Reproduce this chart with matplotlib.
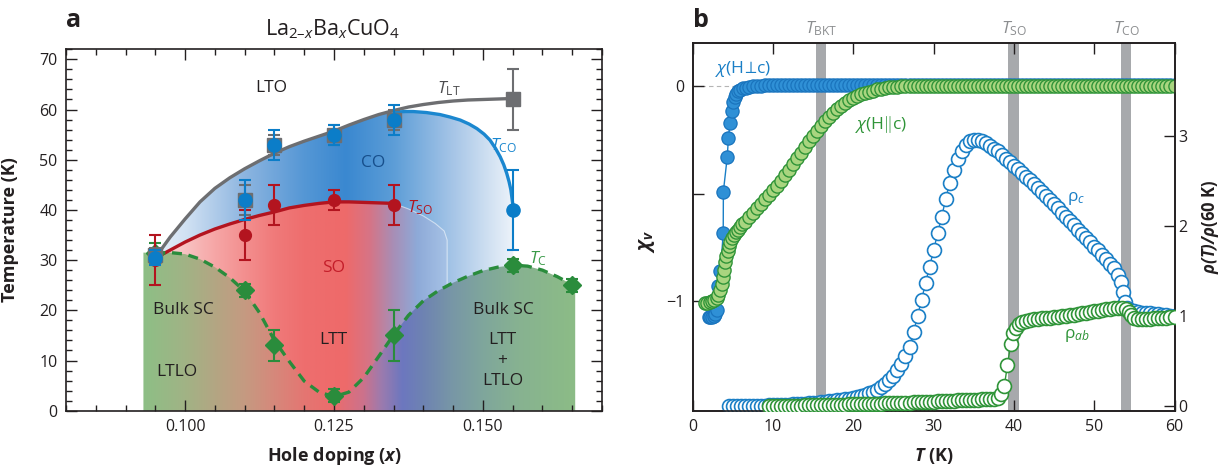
import numpy as np
import matplotlib
matplotlib.use('Agg')
import matplotlib.pyplot as plt
from matplotlib.patches import Polygon
from matplotlib.colors import to_rgb
from matplotlib.ticker import MultipleLocator
from matplotlib.transforms import blended_transform_factory

plt.rcParams['font.family'] = ['Open Sans', 'DejaVu Sans']
plt.rcParams['mathtext.fontset'] = 'custom'
plt.rcParams['mathtext.rm'] = 'Open Sans'
plt.rcParams['mathtext.it'] = 'Open Sans:italic'
plt.rcParams['mathtext.bf'] = 'Open Sans:italic:bold'
plt.rcParams['axes.unicode_minus'] = True

# ---------------- panel a data ----------------
# guide curves
tlt_x = [0.095, 0.0975, 0.100, 0.1025, 0.105, 0.1075, 0.110, 0.1125, 0.115, 0.1175, 0.120, 0.1225, 0.125,
         0.1275, 0.130, 0.1325, 0.135, 0.1375, 0.140, 0.1425, 0.145, 0.1475, 0.150, 0.1525, 0.155]
tlt_y = [30.5, 34.6, 38.2, 41.6, 44.3, 46.4, 48.2, 49.8, 51.3, 52.6, 53.7, 54.7, 55.7,
         56.9, 58.0, 59.0, 59.8, 60.5, 61.0, 61.4, 61.7, 61.9, 62.0, 62.1, 62.2]
tco_x = [0.1355, 0.137, 0.1383, 0.1405, 0.1428, 0.1445, 0.1462, 0.1477, 0.149, 0.1502, 0.1512, 0.1521,
         0.1529, 0.1535, 0.154, 0.1544, 0.1547, 0.1549, 0.1551]
tco_y = [59.5, 59.6, 59.6, 59.4, 59.0, 58.5, 57.9, 57.1, 56.2, 55.1, 53.9, 52.3,
         50.6, 49.0, 47.3, 45.6, 44.0, 42.2, 40.4]
tso_x = [0.095, 0.0975, 0.100, 0.1025, 0.105, 0.1075, 0.110, 0.1125, 0.115, 0.1175, 0.120, 0.1225, 0.125,
         0.1275, 0.130, 0.1325, 0.135]
tso_y = [30.4, 32.0, 33.6, 35.0, 36.2, 37.2, 38.1, 38.9, 39.6, 40.4, 40.9, 41.3, 41.6, 41.6, 41.5, 41.4, 41.3]
so_edge_x = [0.135, 0.1375, 0.140, 0.142, 0.1435, 0.144, 0.144]
so_edge_y = [41.3, 40.2, 38.8, 37.3, 35.8, 34.0, 24.6]
tc_x = [0.093, 0.095, 0.0975, 0.100, 0.1025, 0.105, 0.1075, 0.110, 0.1125, 0.115, 0.1175, 0.120, 0.1225,
        0.125, 0.1275, 0.130, 0.1325, 0.135, 0.1375, 0.140, 0.1425, 0.145, 0.1475, 0.150, 0.1525, 0.155,
        0.1575, 0.160, 0.1625, 0.1655]
tc_y = [31.5, 31.4, 31.5, 31.2, 30.2, 28.6, 26.5, 23.8, 19.5, 14.0, 9.8, 5.9, 3.7,
        2.8, 3.7, 6.6, 10.8, 15.1, 19.0, 21.9, 23.9, 25.5, 26.8, 27.9, 28.6, 29.0,
        28.8, 28.0, 26.7, 24.8]

# measured points with error bars
lt_x = [0.095, 0.110, 0.115, 0.125, 0.135, 0.155]
lt_y = [31.0, 42.0, 53.0, 55.0, 58.0, 62.0]
lt_err = [1.5, 3.0, 2.0, 2.0, 2.0, 6.0]
co_x = [0.095, 0.110, 0.115, 0.125, 0.135, 0.155]
co_y = [30.5, 42.0, 53.0, 55.0, 58.0, 40.0]
co_err = [1.5, 4.0, 3.0, 2.0, 3.0, 8.0]
so_x = [0.095, 0.110, 0.115, 0.125, 0.135]
so_y = [30.0, 35.0, 41.0, 42.0, 41.0]
so_err = [5.0, 5.0, 4.0, 2.0, 4.0]
sc_x = [0.095, 0.110, 0.115, 0.125, 0.135, 0.155, 0.165]
sc_y = [31.5, 24.0, 13.0, 3.0, 15.0, 29.0, 25.0]
sc_err = [2.0, 1.3, 3.0, 1.3, 5.0, 1.3, 1.3]

# ---------------- panel b data ----------------
chi_perp_T = [2.0, 2.2, 2.4, 2.6, 2.8, 3.0, 3.2, 3.45, 3.8, 3.82, 4.3, 4.45, 4.65, 4.85, 5.05, 5.25,
              5.45, 5.7, 5.95, 6.25, 6.6, 7.0,
              7.5, 8.0, 8.5, 9.0, 9.5,
              10.0, 10.5, 11.0, 11.5, 12.0, 12.5, 13.0, 13.5, 14.0, 14.5,
              15.0, 15.5, 16.0, 16.5, 17.0, 17.5, 18.0, 18.5, 19.0, 19.5,
              20.0, 20.5, 21.0, 21.5, 22.0, 22.5, 23.0, 23.5, 24.0, 24.5,
              25.0, 25.5, 26.0, 26.5, 27.0, 27.5, 28.0, 28.5, 29.0, 29.5,
              30.0, 30.5, 31.0, 31.5, 32.0, 32.5, 33.0, 33.5, 34.0, 34.5,
              35.0, 35.5, 36.0, 36.5, 37.0, 37.5, 38.0, 38.5, 39.0, 39.5,
              40.0, 40.5, 41.0, 41.5, 42.0, 42.5, 43.0, 43.5, 44.0, 44.5,
              45.0, 45.5, 46.0, 46.5, 47.0, 47.5, 48.0, 48.5, 49.0, 49.5,
              50.0, 50.5, 51.0, 51.5, 52.0, 52.5, 53.0, 53.5, 54.0, 54.5,
              55.0, 55.5, 56.0, 56.5, 57.0, 57.5, 58.0, 58.5, 59.0, 59.5,
              60.0]
chi_perp = [-1.075, -1.075, -1.072, -1.068, -1.06, -1.04, -0.93, -0.86, -0.685, -0.49, -0.33, -0.24,
            -0.17, -0.115, -0.075, -0.05, -0.035, -0.024, -0.016, -0.01, -0.006, -0.003,
            0.0, 0.002, 0.003, 0.004, 0.005,
            0.005, 0.005, 0.005, 0.005, 0.005, 0.005, 0.005, 0.005, 0.005, 0.005,
            0.005, 0.005, 0.005, 0.005, 0.005, 0.005, 0.005, 0.005, 0.005, 0.005,
            0.005, 0.005, 0.005, 0.005, 0.005, 0.005, 0.005, 0.005, 0.005, 0.005,
            0.005, 0.005, 0.005, 0.005, 0.005, 0.005, 0.005, 0.005, 0.005, 0.005,
            0.005, 0.005, 0.005, 0.005, 0.005, 0.005, 0.005, 0.005, 0.005, 0.005,
            0.005, 0.005, 0.005, 0.005, 0.005, 0.005, 0.005, 0.005, 0.005, 0.005,
            0.005, 0.005, 0.005, 0.005, 0.005, 0.005, 0.005, 0.005, 0.005, 0.005,
            0.005, 0.005, 0.005, 0.005, 0.005, 0.005, 0.005, 0.005, 0.005, 0.005,
            0.005, 0.005, 0.005, 0.005, 0.005, 0.005, 0.005, 0.005, 0.005, 0.005,
            0.005, 0.005, 0.005, 0.005, 0.005, 0.005, 0.005, 0.005, 0.005, 0.005,
            0.005]

chi_par_T = [1.5, 1.8, 2.1, 2.4, 2.7, 3.0, 3.2, 3.4, 3.6, 3.75, 3.9, 4.05, 4.2, 4.35, 4.5, 4.7,
             4.9, 5.1, 5.35, 5.6, 5.9, 6.2, 6.5, 7.0,
             7.5, 8.0, 8.5, 9.0, 9.5,
             10.0, 10.5, 11.0, 11.5, 12.0, 12.5, 13.0, 13.5, 14.0, 14.5,
             15.0, 15.5, 16.0, 16.5, 17.0, 17.5, 18.0, 18.5, 19.0, 19.5,
             20.0, 20.5, 21.0, 21.5, 22.0, 22.5, 23.0, 23.5, 24.0, 24.5,
             25.0, 25.5, 26.0, 26.5, 27.0, 27.5, 28.0, 28.5, 29.0, 29.5,
             30.0, 30.5, 31.0, 31.5, 32.0, 32.5, 33.0, 33.5, 34.0, 34.5,
             35.0, 35.5, 36.0, 36.5, 37.0, 37.5, 38.0, 38.5, 39.0, 39.5,
             40.0, 40.5, 41.0, 41.5, 42.0, 42.5, 43.0, 43.5, 44.0, 44.5,
             45.0, 45.5, 46.0, 46.5, 47.0, 47.5, 48.0, 48.5, 49.0, 49.5,
             50.0, 50.5, 51.0, 51.5, 52.0, 52.5, 53.0, 53.5, 54.0, 54.5,
             55.0, 55.5, 56.0, 56.5, 57.0, 57.5, 58.0, 58.5, 59.0, 59.5,
             60.0]
chi_par = [-1.01, -1.008, -1.004, -1.0, -0.995, -0.985, -0.97, -0.95, -0.92, -0.89, -0.855, -0.82,
           -0.79, -0.765, -0.745, -0.725, -0.705, -0.69, -0.678, -0.668, -0.655, -0.643, -0.632, -0.61,
           -0.59, -0.567, -0.546, -0.525, -0.505,
           -0.485, -0.463, -0.44, -0.415, -0.39, -0.363, -0.336, -0.309, -0.282, -0.256,
           -0.231, -0.207, -0.184, -0.162, -0.142, -0.124, -0.107, -0.092, -0.078, -0.066,
           -0.055, -0.046, -0.038, -0.031, -0.025, -0.02, -0.015, -0.011, -0.008, -0.005,
           -0.003, -0.002, -0.001, 0.0, 0.0, 0.0, 0.0, 0.0, 0.0, 0.0,
           0.0, 0.0, 0.0, 0.0, 0.0, 0.0, 0.0, 0.0, 0.0, 0.0,
           0.0, 0.0, 0.0, 0.0, 0.0, 0.0, 0.0, 0.0, 0.0, 0.0,
           0.0, 0.0, 0.0, 0.0, 0.0, 0.0, 0.0, 0.0, 0.0, 0.0,
           0.0, 0.0, 0.0, 0.0, 0.0, 0.0, 0.0, 0.0, 0.0, 0.0,
           0.0, 0.0, 0.0, 0.0, 0.0, 0.0, 0.0, 0.0, 0.0, 0.0,
           0.0, 0.0, 0.0, 0.0, 0.0, 0.0, 0.0, 0.0, 0.0, 0.0,
           0.0]

rho_c_T = [4.5, 5.0, 5.5, 6.0, 6.5, 7.0, 7.5, 8.0, 8.5, 9.0, 9.5,
           10.0, 10.5, 11.0, 11.5, 12.0, 12.5, 13.0, 13.5, 14.0, 14.5,
           15.0, 15.5, 16.0, 16.5, 17.0, 17.5, 18.0, 18.5, 19.0, 19.5,
           20.0, 20.5, 21.0, 21.5, 22.0, 22.5, 23.0, 23.5, 24.0, 24.5,
           25.0, 25.5, 26.0, 26.5, 27.0, 27.5, 28.0, 28.5, 29.0, 29.5,
           30.0, 30.5, 31.0, 31.5, 32.0, 32.5, 33.0, 33.5, 34.0, 34.5,
           35.0, 35.5, 36.0, 36.5, 37.0, 37.5, 38.0, 38.5, 39.0, 39.5,
           40.0, 40.5, 41.0, 41.5, 42.0, 42.5, 43.0, 43.5, 44.0, 44.5,
           45.0, 45.5, 46.0, 46.5, 47.0, 47.5, 48.0, 48.5, 49.0, 49.5,
           50.0, 50.5, 51.0, 51.5, 52.0, 52.5, 53.0,
           53.3, 53.6, 53.85, 54.1, 54.5, 55.0, 55.5, 56.0, 56.5, 57.0, 57.5, 58.0, 58.5, 59.0, 59.5, 60.0]
rho_c = [0.0, 0.0, 0.0, 0.001, 0.002, 0.003, 0.004, 0.005, 0.006, 0.007, 0.008,
         0.01, 0.012, 0.014, 0.016, 0.018, 0.02, 0.023, 0.026, 0.029, 0.032,
         0.036, 0.04, 0.044, 0.048, 0.053, 0.058, 0.064, 0.07, 0.077, 0.085,
         0.094, 0.104, 0.115, 0.128, 0.143, 0.162, 0.185, 0.213, 0.248, 0.29,
         0.34, 0.4, 0.47, 0.56, 0.66, 0.82, 1.0, 1.18, 1.37, 1.55,
         1.73, 1.92, 2.1, 2.3, 2.48, 2.62, 2.74, 2.83, 2.9, 2.94,
         2.96, 2.96, 2.94, 2.92, 2.89, 2.86, 2.83, 2.79, 2.75, 2.71,
         2.67, 2.63, 2.59, 2.55, 2.51, 2.47, 2.42, 2.38, 2.33, 2.29,
         2.24, 2.2, 2.15, 2.1, 2.06, 2.01, 1.96, 1.91, 1.87, 1.82,
         1.77, 1.73, 1.68, 1.63, 1.58, 1.53, 1.46,
         1.38, 1.27, 1.16, 1.09, 1.07, 1.06, 1.05, 1.04, 1.035, 1.03, 1.025, 1.02, 1.015, 1.01, 1.005, 1.0]

rho_ab_T = [9.5, 10.0, 10.5, 11.0, 11.5, 12.0, 12.5, 13.0, 13.5, 14.0, 14.5,
            15.0, 15.5, 16.0, 16.5, 17.0, 17.5, 18.0, 18.5, 19.0, 19.5,
            20.0, 20.5, 21.0, 21.5, 22.0, 22.5, 23.0, 23.5, 24.0, 24.5,
            25.0, 25.5, 26.0, 26.5, 27.0, 27.5, 28.0, 28.5, 29.0, 29.5,
            30.0, 30.5, 31.0, 31.5, 32.0, 32.5, 33.0, 33.5, 34.0, 34.5,
            35.0, 35.5, 36.0, 36.5, 37.0, 37.5, 38.0,
            38.4, 38.8, 39.2, 39.6, 39.9, 40.2, 40.6, 41.0,
            41.5, 42.0, 42.5, 43.0, 43.5, 44.0, 44.5, 45.0, 45.5, 46.0, 46.5, 47.0, 47.5,
            48.0, 48.5, 49.0, 49.5, 50.0, 50.5, 51.0, 51.5, 52.0, 52.5, 53.0, 53.5,
            54.0, 54.3, 54.6, 55.0,
            55.5, 56.0, 56.5, 57.0, 57.5, 58.0, 58.5, 59.0, 59.5, 60.0]
rho_ab = [0.0, 0.0, 0.001, 0.002, 0.003, 0.004, 0.005, 0.006, 0.007, 0.008, 0.009,
          0.01, 0.011, 0.012, 0.013, 0.014, 0.015, 0.016, 0.017, 0.018, 0.019,
          0.02, 0.021, 0.022, 0.024, 0.025, 0.026, 0.028, 0.029, 0.031, 0.032,
          0.034, 0.035, 0.037, 0.039, 0.04, 0.042, 0.044, 0.046, 0.048, 0.05,
          0.052, 0.054, 0.056, 0.058, 0.06, 0.062, 0.064, 0.066, 0.068, 0.07,
          0.072, 0.074, 0.077, 0.079, 0.082, 0.085, 0.09,
          0.13, 0.22, 0.46, 0.69, 0.81, 0.87, 0.91, 0.935,
          0.948, 0.958, 0.965, 0.97, 0.975, 0.978, 0.984, 0.99, 0.995, 1.0, 1.005, 1.01, 1.017,
          1.025, 1.032, 1.04, 1.047, 1.055, 1.062, 1.07, 1.075, 1.08, 1.085, 1.09, 1.09,
          1.075, 1.05, 1.01, 0.98,
          0.97, 0.97, 0.97, 0.972, 0.975, 0.977, 0.98, 0.982, 0.985, 0.987]

bands = [(15.4, 16.6), (39.3, 40.6), (53.3, 54.6)]
band_labels = [(16, r'$T_{\mathrm{BKT}}$'), (40, r'$T_{\mathrm{SO}}$'), (54, r'$T_{\mathrm{CO}}$')]

# colours of the shaded phases (horizontal gradients)
co_stops = [0.093, 0.100, 0.110, 0.120, 0.127, 0.135, 0.145, 0.150, 0.156]
co_cols = ['#eef3fa', '#d2e2f3', '#8db5e0', '#5597d5', '#3a88d0', '#5c9dd7', '#a6c5e7', '#c9dcf0', '#f3f7fc']
so_stops = [0.095, 0.100, 0.105, 0.110, 0.115, 0.120, 0.127, 0.131, 0.135, 0.139, 0.144]
so_cols = ['#fbdede', '#f8c2c2', '#f6a6a6', '#f38f8f', '#f07a7a', '#ee6e6e', '#ee6a6a', '#d67486',
           '#a88eb6', '#8eaad8', '#a6c2e6']
sc_stops = [0.093, 0.100, 0.105, 0.110, 0.115, 0.120, 0.125, 0.130, 0.133, 0.1365, 0.140, 0.145,
            0.150, 0.156, 0.1655]
sc_cols = ['#8dbf86', '#a1b385', '#b3a683', '#c59a81', '#d6887b', '#e47672', '#ec6c6c', '#cc728c',
           '#9c7bae', '#6c77bf', '#6e83b2', '#7897a6', '#7fa69c', '#87b291', '#8cbc86']

DARK = '#231f20'
GRAY = '#6d6e71'
BLUE = '#0b7dc8'
RED = '#b3141f'
GREEN = '#2a8c3c'


def gradient_patch(ax, stops, cols, verts, z):
    xx = np.linspace(0.08, 0.17, 900)
    rgb = np.array([to_rgb(c) for c in cols])
    img = np.stack([np.interp(xx, stops, rgb[:, k]) for k in range(3)], axis=-1)[None, :, :]
    im = ax.imshow(img, extent=[0.08, 0.17, 0, 72], aspect='auto', origin='lower',
                   interpolation='bilinear', zorder=z)
    poly = Polygon(verts, closed=True, facecolor='none', edgecolor='none', transform=ax.transData)
    ax.add_patch(poly)
    im.set_clip_path(poly)


fig = plt.figure(figsize=(12.2, 4.66), dpi=100)

# ======================= panel a =======================
axa = fig.add_axes([66 / 1220, 55.3 / 466, 536 / 1220, 361.4 / 466])

co_top = [(x, y) for x, y in zip(tlt_x, tlt_y) if x < 0.1355] + list(zip(tco_x, tco_y))
co_verts = co_top + [(tco_x[-1], 0.0), (tlt_x[0], 0.0)]
gradient_patch(axa, co_stops, co_cols, co_verts, 1.0)

so_verts = list(zip(tso_x, tso_y)) + list(zip(so_edge_x[1:], so_edge_y[1:])) + \
    [(so_edge_x[-1], 0.0), (tso_x[0], 0.0)]
gradient_patch(axa, so_stops, so_cols, so_verts, 1.1)

sc_verts = list(zip(tc_x, tc_y)) + [(tc_x[-1], 0.0), (tc_x[0], 0.0)]
gradient_patch(axa, sc_stops, sc_cols, sc_verts, 1.2)

axa.plot(so_edge_x, so_edge_y, color='white', lw=0.8, alpha=0.55, zorder=1.15)

axa.plot(tlt_x, tlt_y, color=GRAY, lw=2.4, zorder=2, solid_capstyle='round')
axa.plot(tco_x, tco_y, color='#1b87cf', lw=2.4, zorder=2.1, solid_capstyle='round')
axa.plot(tso_x, tso_y, color=RED, lw=2.4, zorder=2.1, solid_capstyle='round')
axa.plot(tc_x[1:], tc_y[1:], color=GREEN, lw=2.4, ls=(0, (3.0, 2.0)), zorder=2.2)

eb = dict(capsize=4, capthick=1.5, elinewidth=1.5, linestyle='none')
axa.errorbar(sc_x, sc_y, yerr=sc_err, fmt='D', ms=9.5, color=GREEN, zorder=3, **eb)
axa.errorbar(so_x, so_y, yerr=so_err, fmt='o', ms=8.5, color=RED, zorder=3.2, **eb)
axa.errorbar(lt_x, lt_y, yerr=lt_err, fmt='s', ms=10.5, color=GRAY, zorder=3.4, **eb)
axa.errorbar(co_x, co_y, yerr=co_err, fmt='o', ms=9.5, color=BLUE, zorder=3.6, **eb)

axa.set_xlim(0.08, 0.17)
axa.set_ylim(0, 72)
axa.set_xticks([0.100, 0.125, 0.150])
axa.set_xticklabels(['0.100', '0.125', '0.150'])
axa.xaxis.set_minor_locator(MultipleLocator(0.005))
axa.yaxis.set_major_locator(MultipleLocator(10))
axa.yaxis.set_minor_locator(MultipleLocator(2))
axa.tick_params(which='both', direction='in', top=True, right=True, colors=DARK, width=1.0)
axa.tick_params(which='major', length=8, labelsize=11.5, pad=6)
axa.tick_params(which='minor', length=4)
for s in axa.spines.values():
    s.set_color(DARK)
    s.set_linewidth(1.2)

axa.set_xlabel('Hole doping (' + r'$\mathbf{x}$' + ')', fontsize=13, fontweight='bold', color=DARK)
axa.xaxis.set_label_coords(0.5, -0.095)
axa.set_ylabel('Temperature (K)', fontsize=13, fontweight='bold', color=DARK)
axa.yaxis.set_label_coords(-0.088, 0.5)

txt = dict(ha='center', va='center', fontsize=12.5, zorder=8)
axa.text(0.1145, 64.2, 'LTO', color=DARK, **txt)
axa.text(0.1442, 64.2, r'$T_{\mathrm{LT}}$', color='#4d4d4f', **txt)
axa.text(0.1535, 52.9, r'$T_{\mathrm{CO}}$', color='#1b87cf', **txt)
axa.text(0.1316, 49.3, 'CO', color='#174f8c', **txt)
axa.text(0.1394, 40.4, r'$T_{\mathrm{SO}}$', color=RED, **txt)
axa.text(0.1249, 28.4, 'SO', color='#c41e2a', **txt)
axa.text(0.1592, 30.3, r'$T_{\mathrm{C}}$', color='#3a9a48', **txt)
axa.text(0.0997, 20.1, 'Bulk SC', color=DARK, **txt)
axa.text(0.0986, 7.8, 'LTLO', color=DARK, **txt)
axa.text(0.1249, 14.1, 'LTT', color=DARK, **txt)
axa.text(0.1535, 20.1, 'Bulk SC', color=DARK, **txt)
axa.text(0.1533, 14.1, 'LTT', color=DARK, **txt)
axa.text(0.1533, 9.9, '+', color=DARK, **txt)
axa.text(0.1533, 5.9, 'LTLO', color=DARK, **txt)

fig.text(74 / 1220, 1 - 27 / 466, 'a', fontsize=18, fontweight='bold', color=DARK, va='baseline', ha='center')
fig.text(333 / 1220, 1 - 35 / 466, 'La$_{2–\\mathit{x}}$Ba$_{\\mathit{x}}$CuO$_4$', fontsize=15.5,
         color=DARK, ha='center', va='baseline')

# ======================= panel b =======================
axb = fig.add_axes([692.7 / 1220, 55.3 / 466, 481.8 / 1220, 367.4 / 466])
axb.set_xlim(0, 60)
axb.set_ylim(-1.51, 0.2)
for x0, x1 in bands:
    axb.axvspan(x0, x1, color='#a7a9ac', lw=0, zorder=0.2)
axb.axhline(0, color='#b5b5b5', lw=0.8, ls=(0, (4, 3)), zorder=0.3)

axb.plot(chi_perp_T, chi_perp, '-o', color='#1a7fc6', lw=1.0, ms=9.5, mfc='#2f90d6', mec='#1a74bd',
         mew=0.9, zorder=2)
axb.plot(chi_par_T, chi_par, '-o', color='#2f9438', lw=1.0, ms=9.5, mfc='#a9d57f', mec='#2f9438',
         mew=1.0, zorder=3)

axr = axb.twinx()
axr.set_ylim(-0.05, 4.03)
axr.plot(rho_c_T, rho_c, '-o', color='#1a7fc6', lw=1.0, ms=10, mfc='white', mec='#1a7fc6', mew=1.2, zorder=2)
axr.plot(rho_ab_T, rho_ab, '-o', color='#2f9438', lw=1.0, ms=10, mfc='white', mec='#2f9438', mew=1.2,
         zorder=3)

axb.set_xticks([0, 10, 20, 30, 40, 50, 60])
axb.set_yticks([-1, -0.5, 0])
axb.set_yticklabels(['\u22121', '', '0'])
axb.tick_params(axis='x', direction='in', top=True, length=8, width=1.0, labelsize=11.5, colors=DARK, pad=6)
axb.tick_params(axis='y', direction='in', length=8, width=1.0, labelsize=11.5, colors=DARK, pad=6)
axr.set_yticks([0, 1, 2, 3])
axr.tick_params(axis='y', direction='in', length=8, width=1.0, labelsize=11.5, colors=DARK, pad=3)
for a in (axb, axr):
    for s in a.spines.values():
        s.set_color(DARK)
        s.set_linewidth(1.2)

tb = blended_transform_factory(axb.transData, axb.transAxes)
for xv, lab in band_labels:
    axb.text(xv, 1.027, lab, transform=tb, ha='center', va='baseline', fontsize=12.5, color='#8c8e90')

axb.set_xlabel(r'$\mathbf{T}$ (K)', fontsize=13, fontweight='bold', color=DARK)
axb.xaxis.set_label_coords(0.5, -0.095)
axb.set_ylabel(r'$\mathbf{\chi_v}$', fontsize=14, color=DARK)
axb.yaxis.set_label_coords(-0.075, 0.46)
axr.set_ylabel(r'$\mathbf{\rho(T)/\rho}$(60 K)', fontsize=12, fontweight='bold', color=DARK)
axr.yaxis.set_label_coords(1.052, 0.5)

axb.text(6.3, 0.082, r'$\chi$(H$\!\perp\!$c)', color='#1a7fc6', fontsize=12.5, ha='center',
         va='center', zorder=9)
axb.text(23.4, -0.18, r'$\chi$(H$\Vert$c)', color='#2f9438', fontsize=12.5, ha='center',
         va='center', zorder=9)
axr.text(47.8, 2.31, 'ρ' + r'$_{c}$', color='#1a7fc6', fontsize=12.5, ha='center', va='center', zorder=9)
axr.text(47.8, 0.79, 'ρ' + r'$_{ab}$', color='#2f9438', fontsize=12.5, ha='center', va='center', zorder=9)

fig.text(701 / 1220, 1 - 27 / 466, 'b', fontsize=18, fontweight='bold', color=DARK, va='baseline', ha='center')

fig.savefig('out.png', dpi=100)
